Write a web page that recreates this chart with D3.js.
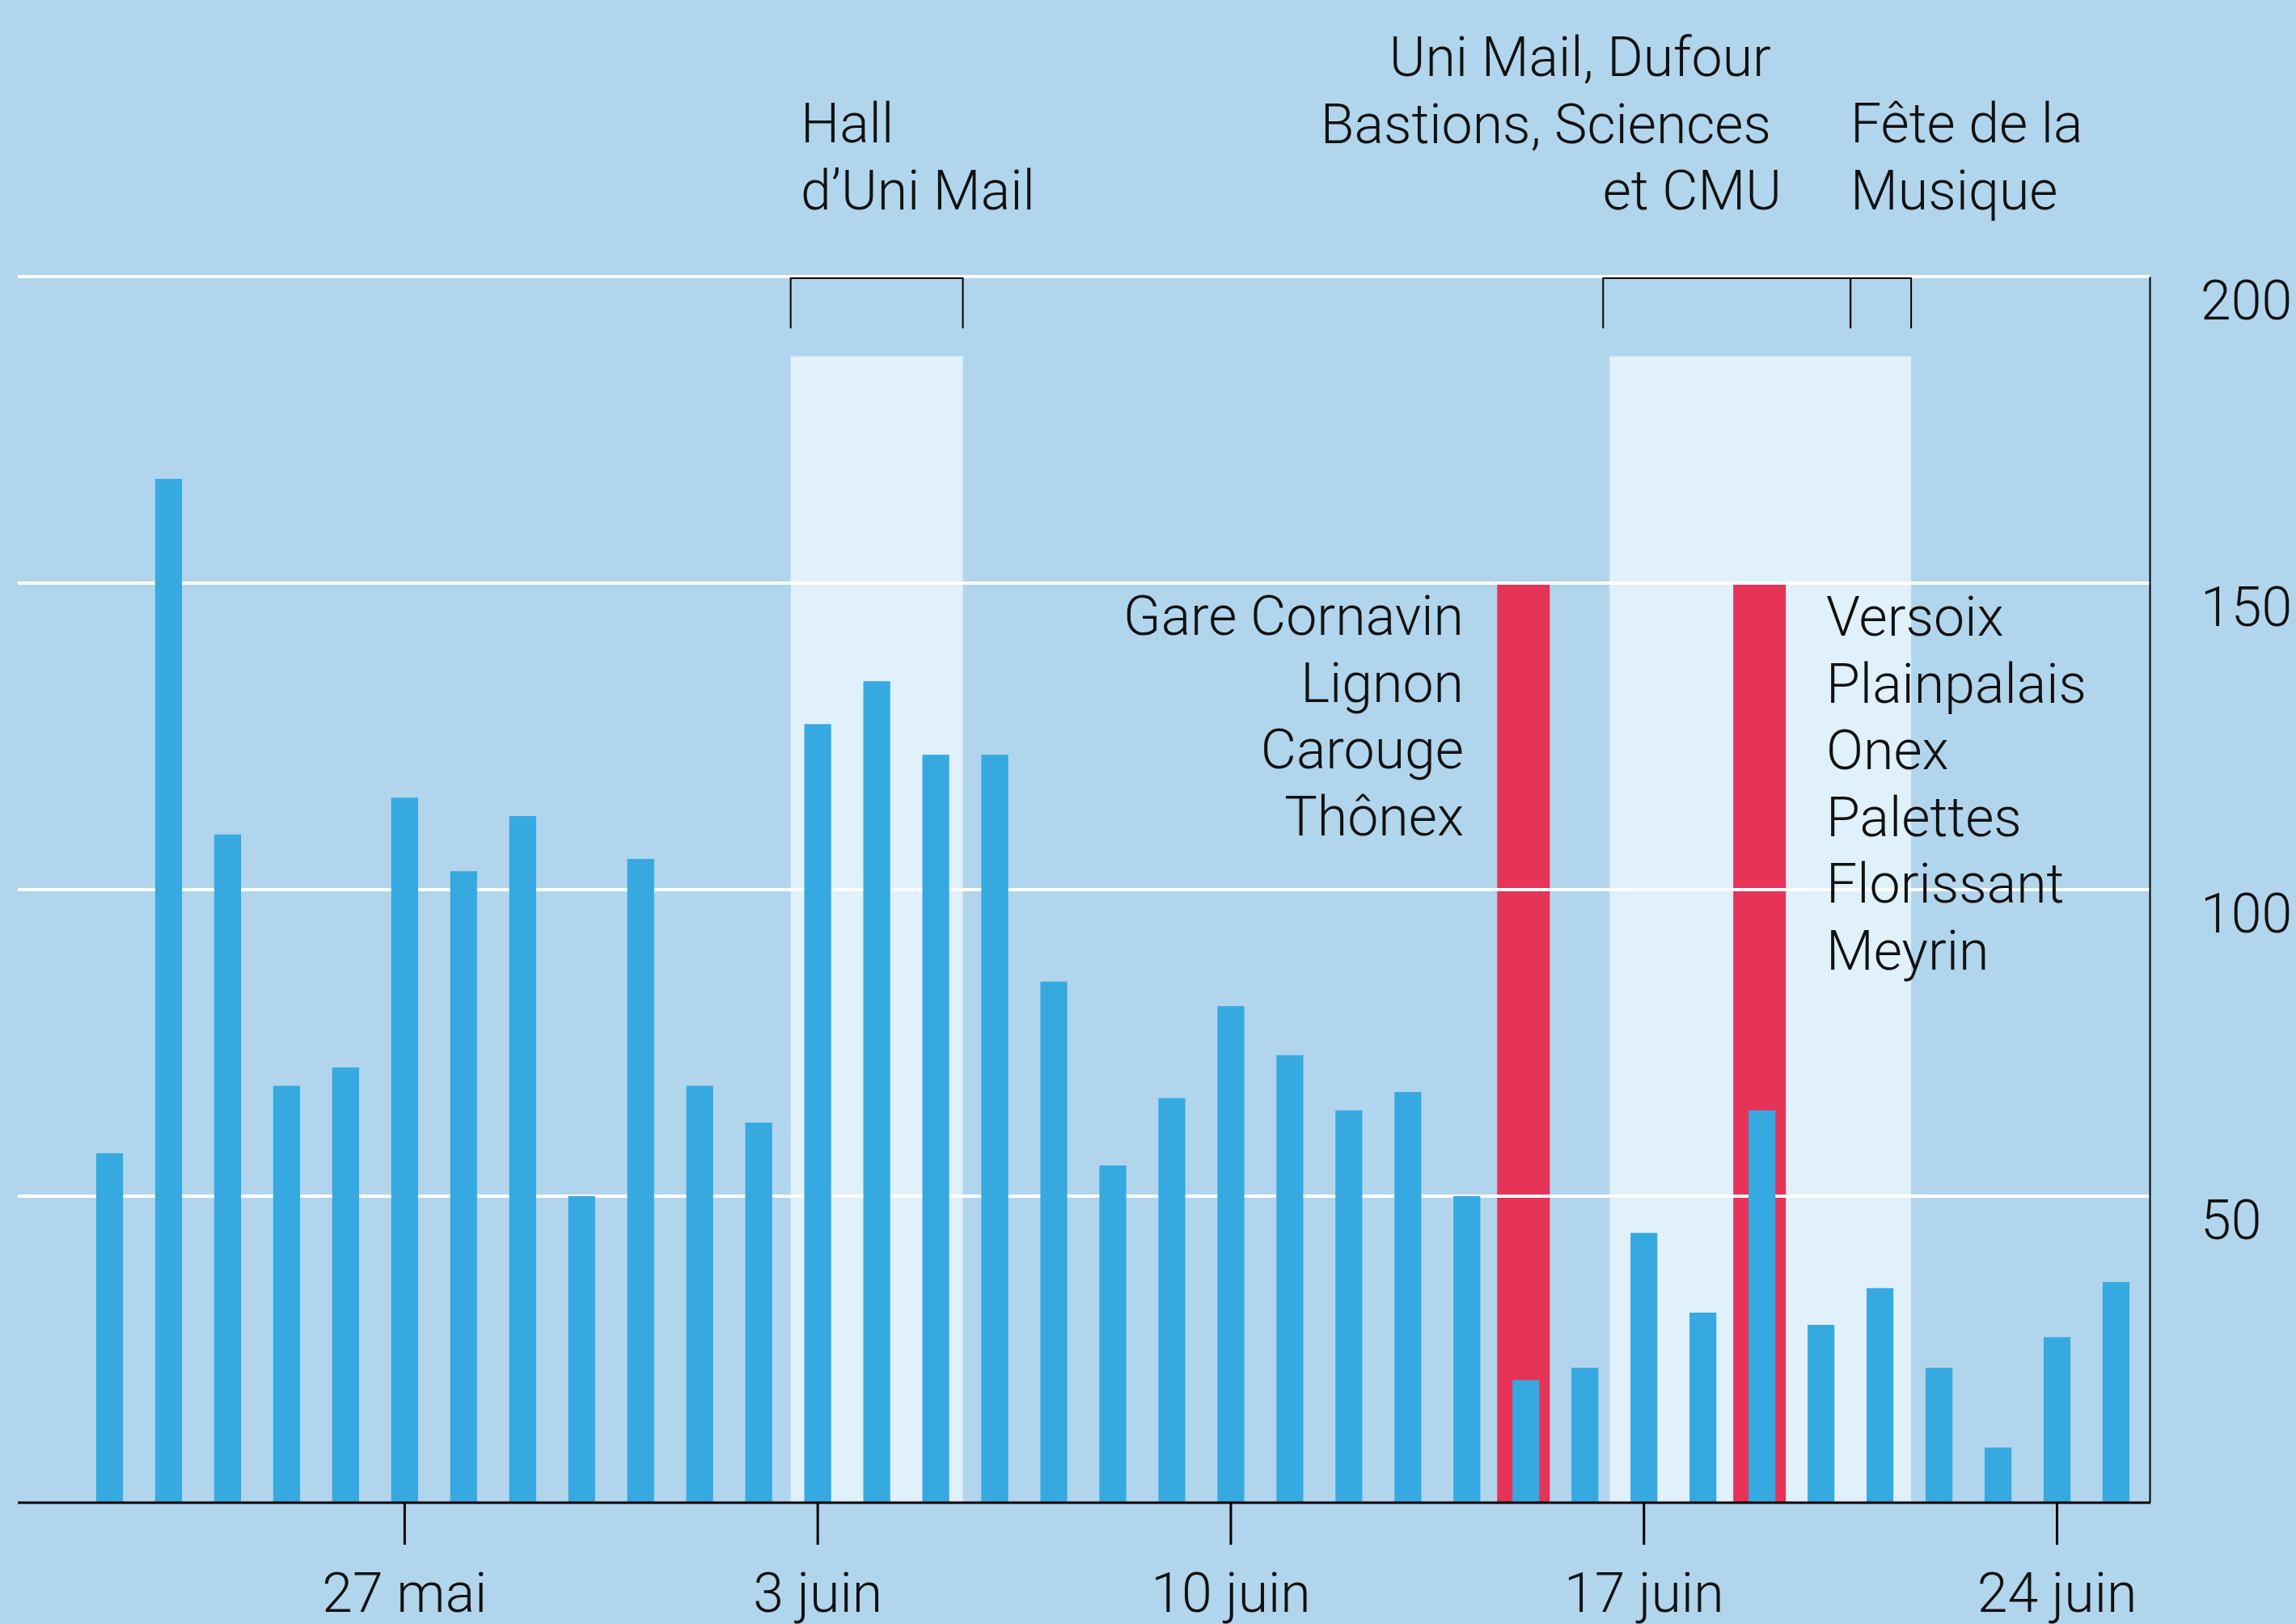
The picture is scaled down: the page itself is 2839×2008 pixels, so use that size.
<!DOCTYPE html>
<html lang="fr">
<head>
<meta charset="UTF-8">
<title>Fréquentation par jour</title>
<style>
  body { margin: 0; background: #b1d5ec; }
  svg { display: block; }
  text { font-family: Roboto, "Noto Sans", sans-serif; font-weight: 300; fill: #111; }
</style>
</head>
<body>
<div id="chart"></div>
<script src="https://cdn.jsdelivr.net/npm/d3@7/dist/d3.min.js"></script>
<script>
const W = 2839;
const H = 2008;

// one bar per day, 22 mai -> 25 juin
const days = [
  '22 mai', '23 mai', '24 mai', '25 mai', '26 mai', '27 mai', '28 mai', '29 mai', '30 mai', '31 mai',
  '1 juin', '2 juin', '3 juin', '4 juin', '5 juin', '6 juin', '7 juin', '8 juin', '9 juin', '10 juin',
  '11 juin', '12 juin', '13 juin', '14 juin', '15 juin', '16 juin', '17 juin', '18 juin', '19 juin', '20 juin',
  '21 juin', '22 juin', '23 juin', '24 juin', '25 juin'
];
const values = [
  57, 167, 109, 68, 71, 115, 103, 112, 50, 105,
  68, 62, 127, 134, 122, 122, 85, 55, 66, 81,
  73, 64, 67, 50, 20, 22, 44, 31, 64, 29,
  35, 22, 9, 27, 36
];
const tickDays = ['27 mai', '3 juin', '10 juin', '17 juin', '24 juin'];
const yTicks = [50, 100, 150, 200];

// red markers (days with many sites)
const eventDays = ['15 juin', '19 juin'];
const eventValue = 150;

// light zones and the brackets above them
const zones = [['3 juin', '5 juin'], ['17 juin', '21 juin']];
const zoneTop = 187;
const brackets = [['3 juin', '5 juin'], ['17 juin', '20 juin'], ['21 juin', '21 juin']];

const leftSites = ['Gare Cornavin', 'Lignon', 'Carouge', 'Thônex'];
const rightSites = ['Versoix', 'Plainpalais', 'Onex', 'Palettes', 'Florissant', 'Meyrin'];

const data = days.map((d, i) => ({ day: d, value: values[i] }));

const x = d3.scaleBand()
  .domain(days)
  .range([99, 2653])
  .paddingInner(0.545)
  .paddingOuter(0.2725);
const step = x.step();
const slotStart = d => x(d) + x.bandwidth() / 2 - step / 2;
const slotEnd = d => x(d) + x.bandwidth() / 2 + step / 2;

const y = d3.scaleLinear().domain([0, 200]).range([1858, 342]);

const axisLeftX = 22;
const axisRightX = 2658;

const svg = d3.select('#chart').append('svg')
  .attr('width', W)
  .attr('height', H);

svg.append('rect').attr('width', W).attr('height', H).attr('fill', '#b1d5ec');

// light zones (small pixel trims so edges sit like the print)
const zoneTrim = [[3, -3], [-6, 2]];
svg.selectAll('.zone')
  .data(zones)
  .enter()
  .append('rect')
  .attr('class', 'zone')
  .attr('x', (d, i) => slotStart(d[0]) + zoneTrim[i][0])
  .attr('width', (d, i) => slotEnd(d[1]) + zoneTrim[i][1] - slotStart(d[0]) - zoneTrim[i][0])
  .attr('y', y(zoneTop))
  .attr('height', y(0) - y(zoneTop))
  .attr('fill', '#e0f1fc');

// red bars
const redW = 65;
svg.selectAll('.event')
  .data(eventDays)
  .enter()
  .append('rect')
  .attr('class', 'event')
  .attr('x', d => x(d) + x.bandwidth() / 2 - redW / 2 - 3)
  .attr('width', redW)
  .attr('y', y(eventValue))
  .attr('height', y(0) - y(eventValue))
  .attr('fill', '#e63358');

// white grid
svg.selectAll('.grid')
  .data(yTicks)
  .enter()
  .append('line')
  .attr('class', 'grid')
  .attr('x1', axisLeftX)
  .attr('x2', axisRightX)
  .attr('y1', d => y(d))
  .attr('y2', d => y(d))
  .attr('stroke', '#fff')
  .attr('stroke-width', 4);

// blue bars
svg.selectAll('.bar')
  .data(data)
  .enter()
  .append('rect')
  .attr('class', 'bar')
  .attr('x', d => x(d.day))
  .attr('width', x.bandwidth())
  .attr('y', d => y(d.value))
  .attr('height', d => y(0) - y(d.value))
  .attr('fill', '#36a9e1');

// x axis
const xAxis = d3.axisBottom(x)
  .tickValues(tickDays)
  .tickSize(52)
  .tickSizeOuter(0);
const gx = svg.append('g')
  .attr('transform', `translate(0,${y(0)})`)
  .call(xAxis);
gx.select('.domain').remove();
gx.selectAll('.tick line').attr('stroke', '#000').attr('stroke-width', 3);
gx.selectAll('.tick text')
  .attr('y', 135)
  .attr('dy', 0)
  .style('font-size', '68px')
  .style('font-family', 'Roboto, sans-serif')
  .style('font-weight', 300)
  .attr('fill', '#111');

svg.append('line')
  .attr('x1', axisLeftX)
  .attr('x2', axisRightX + 1)
  .attr('y1', y(0))
  .attr('y2', y(0))
  .attr('stroke', '#000')
  .attr('stroke-width', 3);

// y axis on the right
const yAxis = d3.axisRight(y)
  .tickValues(yTicks)
  .tickSize(0)
  .tickSizeOuter(0);
const gy = svg.append('g')
  .attr('transform', `translate(${axisRightX},0)`)
  .call(yAxis);
gy.select('.domain').attr('stroke', '#000').attr('stroke-width', 2);
gy.selectAll('.tick text')
  .attr('x', 63)
  .attr('dy', 52)
  .style('font-size', '68px')
  .style('font-family', 'Roboto, sans-serif')
  .style('font-weight', 300)
  .attr('fill', '#111');

// brackets
const bTop = y(200) + 2;
const bH = 62;
const bracketTrim = [[3, -3], [-14, 0], [0, 2]];
svg.selectAll('.bracket')
  .data(brackets)
  .enter()
  .append('path')
  .attr('class', 'bracket')
  .attr('d', (d, i) => {
    const a = slotStart(d[0]) + bracketTrim[i][0];
    const b = slotEnd(d[1]) + bracketTrim[i][1];
    return `M${a},${bTop + bH}V${bTop}H${b}V${bTop + bH}`;
  })
  .attr('fill', 'none')
  .attr('stroke', '#000')
  .attr('stroke-width', 2);

// annotations
const fs = 68;
const lh = 82.5;

function block(lines, xPos, yPos, anchor) {
  const t = svg.append('text')
    .attr('text-anchor', anchor)
    .style('font-size', fs + 'px');
  lines.forEach((l, i) => {
    t.append('tspan').attr('x', xPos).attr('y', yPos + i * lh).text(l);
  });
  return t;
}

block(['Hall', 'd’Uni Mail'], 990, 176, 'start');
block(['Uni Mail, Dufour', 'Bastions, Sciences'], 2190, 94, 'end');
block(['et CMU'], 2203, 259, 'end');
block(['Fête de la', 'Musique'], 2288, 176, 'start');
block(leftSites, 1810, 785, 'end');
block(rightSites, 2258, 786, 'start');
</script>
</body>
</html>
